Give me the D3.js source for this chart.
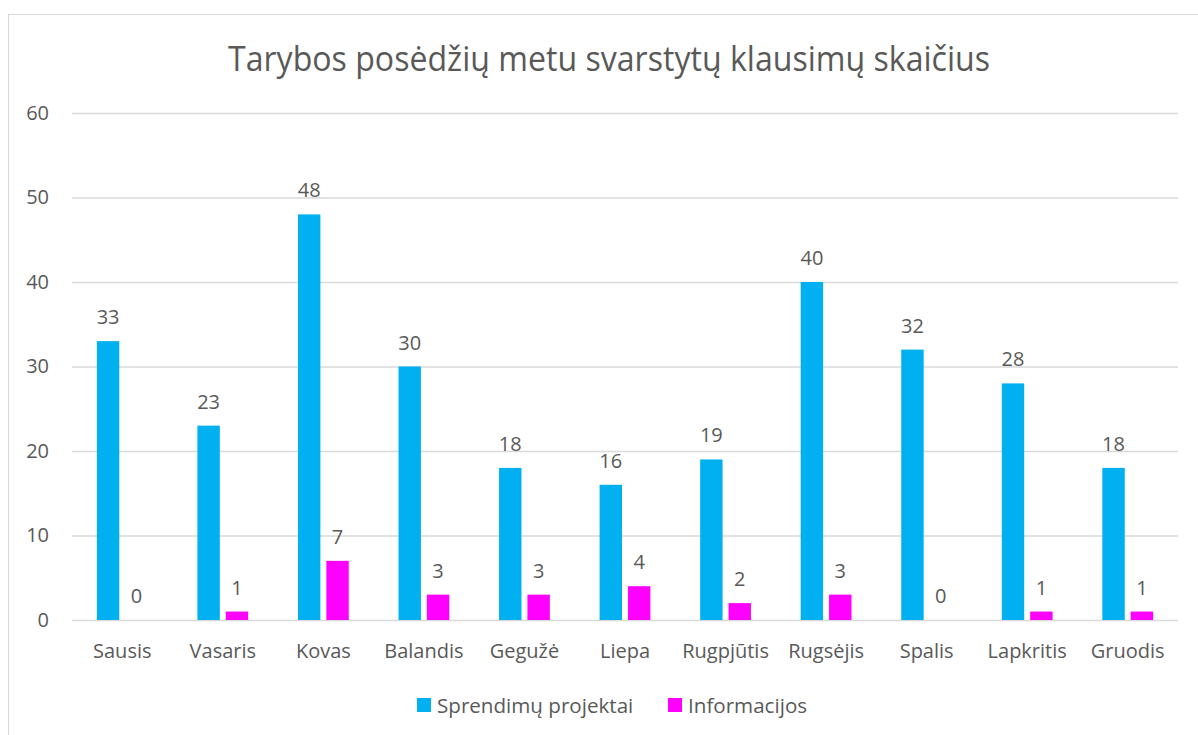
<!DOCTYPE html>
<html><head><meta charset="utf-8">
<script src="https://cdn.jsdelivr.net/npm/d3@7"></script>
<style>body{margin:0;background:#fff}svg{display:block}text{font-family:"Open Sans",sans-serif;fill:#595959}</style>
</head><body>
<svg id="c" width="1198" height="735"></svg>
<script>
const months = ["Sausis","Vasaris","Kovas","Balandis","Gegužė","Liepa","Rugpjūtis","Rugsėjis","Spalis","Lapkritis","Gruodis"];
const seriesNames = ["Sprendimų projektai","Informacijos"];
const sprendimu = [33,23,48,30,18,16,19,40,32,28,18];
const informacijos = [0,1,7,3,3,4,2,3,0,1,1];
const yTicks = [0,10,20,30,40,50,60];
const colors = ["#00B0F0","#FF00FF"];
const titleText = "Tarybos posėdžių metu svarstytų klausimų skaičius";

(function(){
const svg = d3.select("#c");
// chart frame
svg.append("rect").attr("x",8.5).attr("y",14.5).attr("width",1250).attr("height",800)
  .attr("fill","#fff").attr("stroke","#D9D9D9");

const pLeft = 72, pRight = 1178, pTop = 113, pBottom = 620;
const y = d3.scaleLinear().domain([0,60]).range([pBottom, pTop]);
const x0 = d3.scaleBand().domain(months).range([pLeft,pRight]).padding(0);
const x1 = d3.scaleBand().domain(seriesNames).range([0,x0.bandwidth()]).paddingInner(0.21).paddingOuter(0.877);

// gridlines
const yAxis = d3.axisLeft(y).tickValues(yTicks).tickSize(-(pRight-pLeft)).tickPadding(23);
const gy = svg.append("g").attr("transform",`translate(${pLeft},0)`).call(yAxis);
gy.select(".domain").remove();
gy.selectAll(".tick line").attr("stroke","#D9D9D9").attr("stroke-width",1.3);
gy.selectAll(".tick text").style("font-size","20px").attr("fill","#595959");

// title
svg.append("text").attr("x",228).attr("y",71)
  .attr("textLength",762).attr("lengthAdjust","spacingAndGlyphs")
  .style("font-size","34px").text(titleText);

const data = months.map((m,i)=>({m, vals:[sprendimu[i], informacijos[i]]}));
const groups = svg.append("g").selectAll("g").data(data).join("g")
  .attr("transform",d=>`translate(${x0(d.m)},0)`);
groups.selectAll("rect").data(d=>d.vals.map((v,k)=>({k,v}))).join("rect")
  .attr("x",d=>x1(seriesNames[d.k])).attr("width",x1.bandwidth())
  .attr("y",d=>y(d.v)).attr("height",d=>y(0)-y(d.v))
  .attr("fill",d=>colors[d.k]);
groups.selectAll("text.v").data(d=>d.vals.map((v,k)=>({k,v}))).join("text")
  .attr("class","v").attr("text-anchor","middle")
  .attr("x",d=>x1(seriesNames[d.k])+x1.bandwidth()/2).attr("y",d=>y(d.v)-17)
  .style("font-size","20px").text(d=>d.v);

// x axis labels
const xAxis = d3.axisBottom(x0).tickSize(0).tickPadding(24);
const gx = svg.append("g").attr("transform",`translate(0,${pBottom})`).call(xAxis);
gx.select(".domain").remove();
gx.selectAll(".tick text").style("font-size","20px").attr("fill","#595959");
gx.attr("font-family",null); gy.attr("font-family",null);

// legend
const legend = svg.append("g");
const legX = [417, 668];
seriesNames.forEach((s,i)=>{
  legend.append("rect").attr("x",legX[i]).attr("y",698).attr("width",14).attr("height",14).attr("fill",colors[i]);
  legend.append("text").attr("x",legX[i]+20).attr("y",713).style("font-size","20.6px").text(s);
});
})();
</script>
</body></html>
